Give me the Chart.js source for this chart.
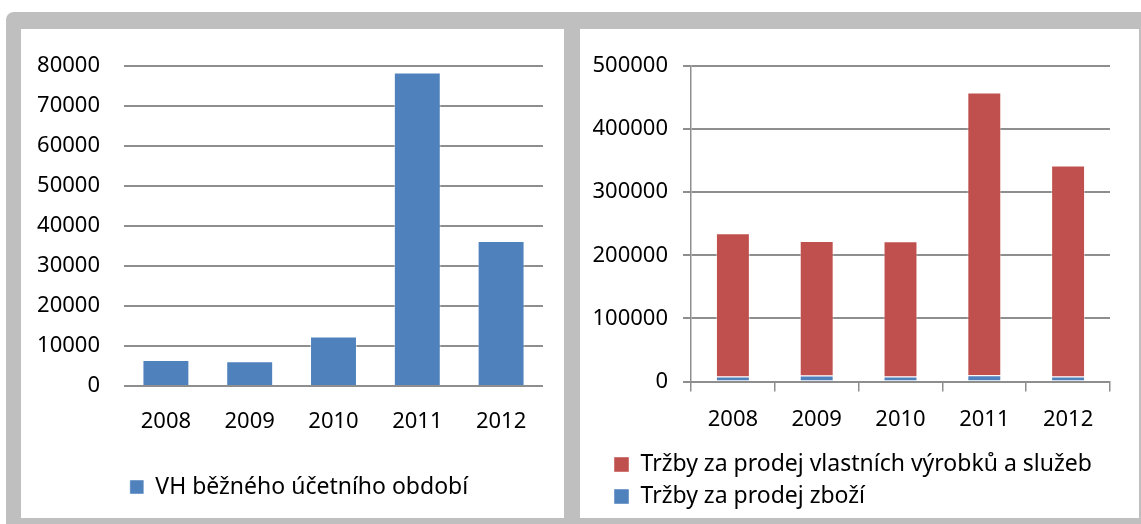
<!DOCTYPE html>
<html lang="cs">
<head>
<meta charset="UTF-8">
<title>VH a tržby 2008–2012</title>
<script src="https://cdn.jsdelivr.net/npm/chart.js"></script>
<style>
    html, body { margin: 0; padding: 0; background: #fff; }
    body { width: 1141px; height: 524px; position: relative; overflow: hidden; font-family: 'Noto Sans', sans-serif; }
    .frame { position: absolute; left: 6px; top: 12px; right: 0; bottom: 0; background: #bfbfbf; border-top-left-radius: 8px; }
    .panel { position: absolute; background: #fff; }
    #leftPanel { left: 21px; top: 29px; width: 543px; height: 489px; }
    #rightPanel { left: 580px; top: 29px; width: 559px; height: 489px; }
</style>
</head>
<body>
<div class="frame"></div>
<div class="panel" id="leftPanel"><canvas id="vhChart" width="543" height="489"></canvas></div>
<div class="panel" id="rightPanel"><canvas id="trzbyChart" width="559" height="489"></canvas></div>

<script>
// --- DATA ---
const years = ['2008', '2009', '2010', '2011', '2012'];
const vhValues = [6500, 6200, 12400, 78400, 36250];
const trzbyZbozi = [8000, 9500, 8000, 10000, 8000];
const trzbyVyrobky = [227000, 213200, 214200, 448100, 334200];
const leftTicks = [0, 10000, 20000, 30000, 40000, 50000, 60000, 70000, 80000];
const rightTicks = [0, 100000, 200000, 300000, 400000, 500000];

const BLUE = '#4f81bd';
const RED = '#c0504d';
const GRID = '#8e8e8e';

Chart.defaults.font.family = "'Noto Sans', sans-serif";
Chart.defaults.font.size = 22;
Chart.defaults.color = '#000';
Chart.defaults.animation = false;

const fixTicks = list => axis => { axis.ticks = list.map(v => ({ value: v })); };

// posune legendu doprava (Excel ji má odsazenou jinak než Chart.js)
const shiftLegend = dx => ({
    id: 'shiftLegend',
    afterLayout(chart) { chart.legend.left += dx; }
});

// --- LEVÝ GRAF: VH ---
new Chart(document.getElementById('vhChart'), {
    type: 'bar',
    data: {
        labels: years,
        datasets: [{
            label: 'VH běžného účetního období',
            data: vhValues,
            backgroundColor: BLUE,
            borderColor: 'rgba(255,255,255,0.45)',
            borderWidth: 1,
            categoryPercentage: 1,
            barPercentage: 0.56
        }]
    },
    options: {
        responsive: false,
        layout: { padding: { top: 37, right: 21, bottom: 9.5, left: 0 } },
        plugins: {
            tooltip: { enabled: false },
            legend: {
                position: 'bottom',
                labels: { boxWidth: 14, boxHeight: 14, padding: 9, color: '#000', font: { size: 23 } }
            }
        },
        scales: {
            x: {
                grid: { display: false, drawTicks: false },
                border: { display: false },
                ticks: { padding: 23, maxRotation: 0 },
                afterFit: s => { s.height = 80.5; }
            },
            y: {
                min: 0, max: 80000,
                afterBuildTicks: fixTicks(leftTicks),
                grid: { color: GRID, lineWidth: 2, drawTicks: false },
                border: { display: false },
                ticks: { padding: 24, callback: v => String(v) },
                afterFit: s => { s.width = 103; }
            }
        }
    },
    plugins: [shiftLegend(34)]
});

// --- PRAVÝ GRAF: TRŽBY ---
new Chart(document.getElementById('trzbyChart'), {
    type: 'bar',
    data: {
        labels: years,
        datasets: [{
            label: 'Tržby za prodej zboží',
            data: trzbyZbozi,
            backgroundColor: BLUE,
            borderColor: 'rgba(255,255,255,0.45)',
            borderWidth: 1,
            categoryPercentage: 1,
            barPercentage: 0.405
        }, {
            label: 'Tržby za prodej vlastních výrobků a služeb',
            data: trzbyVyrobky,
            backgroundColor: RED,
            borderColor: 'rgba(255,255,255,0.45)',
            borderWidth: 1,
            categoryPercentage: 1,
            barPercentage: 0.405
        }]
    },
    options: {
        responsive: false,
        layout: { padding: { top: 37, right: 29, bottom: 0, left: 0 } },
        plugins: {
            tooltip: { enabled: false },
            legend: {
                position: 'bottom',
                align: 'start',
                reverse: true,
                labels: { boxWidth: 15, boxHeight: 15, padding: 9, color: '#000', font: { size: 23 } }
            }
        },
        scales: {
            x: {
                stacked: true,
                grid: { color: GRID, lineWidth: 1.5, drawOnChartArea: false, drawTicks: true, tickLength: 10 },
                border: { display: true, color: GRID, width: 2 },
                ticks: { padding: 15, maxRotation: 0 },
                afterFit: s => { s.height = 62.5; }
            },
            y: {
                stacked: true,
                min: 0, max: 500000,
                afterBuildTicks: fixTicks(rightTicks),
                grid: { color: GRID, lineWidth: 2, drawTicks: true, tickLength: 8 },
                border: { display: true, color: GRID, width: 1.5 },
                ticks: { padding: 15, callback: v => String(v) },
                afterFit: s => { s.width = 111; }
            }
        }
    },
    plugins: [shiftLegend(25)]
});
</script>
</body>
</html>
